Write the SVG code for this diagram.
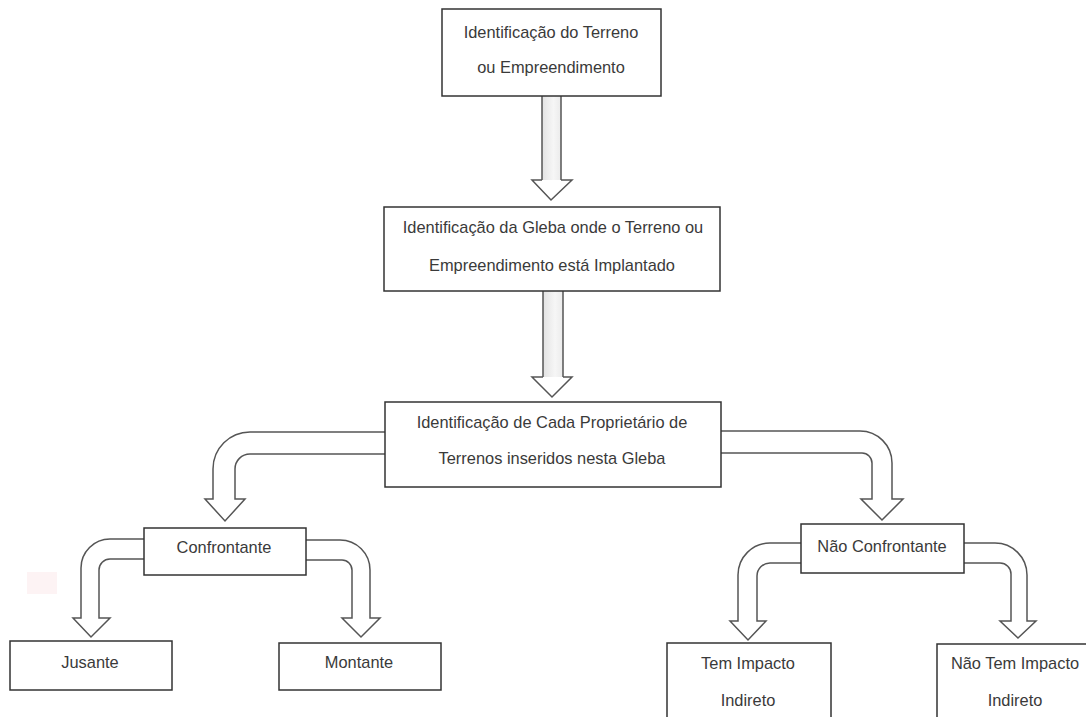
<svg xmlns="http://www.w3.org/2000/svg" width="1086" height="717" viewBox="0 0 1086 717">
  <style>
    .box { fill: #ffffff; stroke: #333333; stroke-width: 1.5; }
    .t { font-family: "Liberation Sans", Arial, sans-serif; font-size: 16.4px; fill: #3a3a3a; text-anchor: middle; }
    .arr { fill: #ffffff; stroke: #555555; stroke-width: 1.5; stroke-linejoin: miter; }
    .shaft { fill: url(#shaftGrad); stroke: none; }
    .edge { fill: none; stroke: #555555; stroke-width: 1.5; }
  </style>
  <defs>
    <linearGradient id="shaftGrad" x1="0" y1="0" x2="1" y2="0">
      <stop offset="0" stop-color="#e2e2e2"/>
      <stop offset="0.6" stop-color="#f6f6f6"/>
      <stop offset="1" stop-color="#ebebeb"/>
    </linearGradient>
  </defs>
  <rect x="0" y="0" width="1086" height="717" fill="#ffffff"/>
  <rect x="27" y="572" width="30" height="22" fill="#fdf3f4"/>

  <g id="connectors">
    <!-- straight arrow 1 -->
    <rect class="shaft" x="542" y="96" width="19" height="84"/>
    <path class="edge" d="M542,96 V180 M561,96 V180"/>
    <path class="arr" d="M542,180 H532 L551,200 L572,180 H561"/>
    <!-- straight arrow 2 -->
    <rect class="shaft" x="543" y="291" width="20" height="86"/>
    <path class="edge" d="M543,291 V377 M563,291 V377"/>
    <path class="arr" d="M543,377 H532 L552,397 L572,377 H563"/>
    <!-- curved arrows from box 3 -->
    <path class="arr" d="M385,432 H250 A37,37 0 0 0 213,469 V499 H205 L225,521 L245,499 H235 V469 A15,15 0 0 1 250,454 H385"/>
    <path class="arr" d="M721,431 H860 A32,32 0 0 1 892,463 V499 H903 L882,520 L861,499 H872 V463 A10,10 0 0 0 862,453 H721"/>
    <!-- curved arrows from Confrontante -->
    <path class="arr" d="M144,539 H110 A29,29 0 0 0 81,568 V618 H73 L91,637 L110,618 H99 V570 A11,11 0 0 1 110,559 H144"/>
    <path class="arr" d="M306,540 H340 A30,30 0 0 1 370,570 V618 H380 L361,637 L342,618 H352 V570 A10,10 0 0 0 342,560 H306"/>
    <!-- curved arrows from Não Confrontante -->
    <path class="arr" d="M801,543 H770 A32,32 0 0 0 738,575 V621 H730 L748,640 L766,621 H757 V576 A13,13 0 0 1 770,563 H801"/>
    <path class="arr" d="M964,543 H995 A32,32 0 0 1 1027,575 V621 H1036 L1018,638 L1000,621 H1011 V574 A11,11 0 0 0 1000,563 H964"/>
  </g>

  <g id="node-terreno">
    <rect class="box" x="442" y="9" width="219" height="87"/>
    <text class="t" x="551" y="38">Identificação do Terreno</text>
    <text class="t" x="551" y="73">ou Empreendimento</text>
  </g>
  <g id="node-gleba">
    <rect class="box" x="384" y="207" width="336" height="84"/>
    <text class="t" x="553" y="233">Identificação da Gleba onde o Terreno ou</text>
    <text class="t" x="552" y="271">Empreendimento está Implantado</text>
  </g>
  <g id="node-proprietario">
    <rect class="box" x="385" y="402" width="336" height="85"/>
    <text class="t" x="552" y="428">Identificação de Cada Proprietário de</text>
    <text class="t" x="552" y="464">Terrenos inseridos nesta Gleba</text>
  </g>
  <g id="node-confrontante">
    <rect class="box" x="144" y="528" width="162" height="47"/>
    <text class="t" x="224" y="553">Confrontante</text>
  </g>
  <g id="node-nao-confrontante">
    <rect class="box" x="801" y="524" width="163" height="49"/>
    <text class="t" x="882" y="552">Não Confrontante</text>
  </g>
  <g id="node-jusante">
    <rect class="box" x="10" y="641" width="162" height="49"/>
    <text class="t" x="90" y="668">Jusante</text>
  </g>
  <g id="node-montante">
    <rect class="box" x="279" y="643" width="162" height="47"/>
    <text class="t" x="359" y="668">Montante</text>
  </g>
  <g id="node-tem-impacto">
    <rect class="box" x="667" y="643" width="164" height="90"/>
    <text class="t" x="748" y="669">Tem Impacto</text>
    <text class="t" x="748" y="706">Indireto</text>
  </g>
  <g id="node-nao-tem-impacto">
    <rect class="box" x="937" y="644" width="170" height="90"/>
    <text class="t" x="1015" y="669">Não Tem Impacto</text>
    <text class="t" x="1015" y="706">Indireto</text>
  </g>
</svg>
